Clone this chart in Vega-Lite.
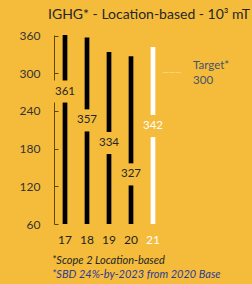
{
  "$schema": "https://vega.github.io/schema/vega-lite/v6.json",
  "width": 110,
  "height": 189,
  "autosize": {"type": "none"},
  "padding": {"left": 54, "top": 35, "right": 88, "bottom": 60},
  "background": "#F5BC3B",
  "config": {
    "view": {"stroke": null},
    "font": "Lato",
    "axis": {"labelFont": "Lato", "grid": false}
  },
  "title": {"text": "IGHG* - Location-based - 10³ mT", "anchor": "start", "frame": "group", "dx": -6, "offset": 8, "fontSize": 14, "fontWeight": "normal", "color": "#262626", "font": "Lato"},
  "datasets": {
    "emissions": [
      {"year": "17", "value": 361, "type": "actual", "label_at": 271},
      {"year": "18", "value": 357, "type": "actual", "label_at": 225},
      {"year": "19", "value": 334, "type": "actual", "label_at": 189},
      {"year": "20", "value": 327, "type": "actual", "label_at": 139},
      {"year": "21", "value": 342, "type": "forecast", "label_at": 216}
    ],
    "target": [{"name": "Target*", "value": 300}]
  },
  "layer": [
    {
      "data": {"name": "emissions"},
      "mark": {"type": "rule", "strokeWidth": 4.7, "strokeCap": "butt"},
      "encoding": {
        "x": {"field": "year", "type": "nominal", "title": null,
          "scale": {"type": "band", "domain": ["17", "18", "19", "20", "21"], "paddingInner": 0, "paddingOuter": 0},
          "axis": {"title": null, "domain": false, "ticks": false, "labelAngle": 0, "labelPadding": 10, "labelFontSize": 12, "labelColor": {"condition": {"test": "datum.value === '21'", "value": "#FFFFFF"}, "value": "#1F1F1F"}}},
        "y": {"field": "value", "type": "quantitative", "title": null,
          "scale": {"domain": [60, 361], "nice": false, "zero": false},
          "axis": {"title": null, "values": [60, 120, 180, 240, 300, 360], "labelOverlap": false, "labelFlush": false, "domain": true, "domainColor": "#5E4800", "domainWidth": 1, "ticks": true, "tickColor": "#5E4800", "tickWidth": 1, "tickSize": -4, "labelPadding": 18, "labelFontSize": 12, "labelColor": "#333333"}},
        "y2": {"datum": 60},
        "color": {"field": "type", "type": "nominal", "scale": {"domain": ["actual", "forecast"], "range": ["#000000", "#FFFFFF"]}, "legend": null}
      }
    },
    {
      "data": {"name": "emissions"},
      "mark": {"type": "point", "shape": "M-1,-0.85H1V0.85H-1Z", "size": 676, "filled": true, "color": "#F5BC3B", "opacity": 1, "strokeWidth": 0},
      "encoding": {
        "x": {"field": "year", "type": "nominal", "title": null,
          "axis": {"title": null, "domain": false, "ticks": false, "labelAngle": 0, "labelPadding": 10, "labelFontSize": 12, "labelColor": {"condition": {"test": "datum.value === '21'", "value": "#FFFFFF"}, "value": "#1F1F1F"}}},
        "y": {"field": "label_at", "type": "quantitative", "title": null,
          "axis": {"title": null, "values": [60, 120, 180, 240, 300, 360], "labelOverlap": false, "labelFlush": false, "domain": true, "domainColor": "#5E4800", "domainWidth": 1, "ticks": true, "tickColor": "#5E4800", "tickWidth": 1, "tickSize": -4, "labelPadding": 18, "labelFontSize": 12, "labelColor": "#333333"}}
      }
    },
    {
      "data": {"name": "emissions"},
      "mark": {"type": "text", "fontSize": 11.5, "baseline": "middle", "align": "center"},
      "encoding": {
        "x": {"field": "year", "type": "nominal", "title": null,
          "axis": {"title": null, "domain": false, "ticks": false, "labelAngle": 0, "labelPadding": 10, "labelFontSize": 12, "labelColor": {"condition": {"test": "datum.value === '21'", "value": "#FFFFFF"}, "value": "#1F1F1F"}}},
        "y": {"field": "label_at", "type": "quantitative", "title": null,
          "axis": {"title": null, "values": [60, 120, 180, 240, 300, 360], "labelOverlap": false, "labelFlush": false, "domain": true, "domainColor": "#5E4800", "domainWidth": 1, "ticks": true, "tickColor": "#5E4800", "tickWidth": 1, "tickSize": -4, "labelPadding": 18, "labelFontSize": 12, "labelColor": "#333333"}},
        "text": {"field": "value", "type": "quantitative"},
        "color": {"condition": {"test": "datum.year === '21'", "value": "#FFFFFF"}, "value": "#262626"}
      }
    },
    {
      "data": {"name": "target"},
      "mark": {"type": "text", "text": "———", "fontSize": 8, "align": "center", "baseline": "middle", "color": "#FCE3A6"},
      "encoding": {
        "x": {"datum": "21", "bandPosition": 1.36, "title": null,
          "axis": {"title": null, "domain": false, "ticks": false, "labelAngle": 0, "labelPadding": 10, "labelFontSize": 12, "labelColor": {"condition": {"test": "datum.value === '21'", "value": "#FFFFFF"}, "value": "#1F1F1F"}}},
        "y": {"field": "value", "type": "quantitative", "title": null,
          "axis": {"title": null, "values": [60, 120, 180, 240, 300, 360], "labelOverlap": false, "labelFlush": false, "domain": true, "domainColor": "#5E4800", "domainWidth": 1, "ticks": true, "tickColor": "#5E4800", "tickWidth": 1, "tickSize": -4, "labelPadding": 18, "labelFontSize": 12, "labelColor": "#333333"}}
      }
    },
    {
      "data": {"name": "target"},
      "mark": {"type": "text", "fontSize": 11.5, "align": "left", "baseline": "middle", "dy": -7.5, "color": "#44546A"},
      "encoding": {
        "x": {"datum": "21", "bandPosition": 2.32, "title": null,
          "axis": {"title": null, "domain": false, "ticks": false, "labelAngle": 0, "labelPadding": 10, "labelFontSize": 12, "labelColor": {"condition": {"test": "datum.value === '21'", "value": "#FFFFFF"}, "value": "#1F1F1F"}}},
        "y": {"field": "value", "type": "quantitative", "title": null,
          "axis": {"title": null, "values": [60, 120, 180, 240, 300, 360], "labelOverlap": false, "labelFlush": false, "domain": true, "domainColor": "#5E4800", "domainWidth": 1, "ticks": true, "tickColor": "#5E4800", "tickWidth": 1, "tickSize": -4, "labelPadding": 18, "labelFontSize": 12, "labelColor": "#333333"}},
        "text": {"field": "name"}
      }
    },
    {
      "data": {"name": "target"},
      "mark": {"type": "text", "fontSize": 11.5, "align": "left", "baseline": "middle", "dy": 7.5, "color": "#44546A"},
      "encoding": {
        "x": {"datum": "21", "bandPosition": 2.32, "title": null,
          "axis": {"title": null, "domain": false, "ticks": false, "labelAngle": 0, "labelPadding": 10, "labelFontSize": 12, "labelColor": {"condition": {"test": "datum.value === '21'", "value": "#FFFFFF"}, "value": "#1F1F1F"}}},
        "y": {"field": "value", "type": "quantitative", "title": null,
          "axis": {"title": null, "values": [60, 120, 180, 240, 300, 360], "labelOverlap": false, "labelFlush": false, "domain": true, "domainColor": "#5E4800", "domainWidth": 1, "ticks": true, "tickColor": "#5E4800", "tickWidth": 1, "tickSize": -4, "labelPadding": 18, "labelFontSize": 12, "labelColor": "#333333"}},
        "text": {"field": "value", "type": "quantitative"}
      }
    },
    {
      "data": {"values": [{"note": "*Scope 2 Location-based"}]},
      "mark": {"type": "text", "fontSize": 11, "fontStyle": "italic", "align": "left", "baseline": "middle", "dx": -2, "dy": 37, "color": "#262626"},
      "encoding": {
        "x": {"datum": "17", "bandPosition": 0, "title": null,
          "axis": {"title": null, "domain": false, "ticks": false, "labelAngle": 0, "labelPadding": 10, "labelFontSize": 12, "labelColor": {"condition": {"test": "datum.value === '21'", "value": "#FFFFFF"}, "value": "#1F1F1F"}}},
        "y": {"datum": 60, "title": null,
          "axis": {"title": null, "values": [60, 120, 180, 240, 300, 360], "labelOverlap": false, "labelFlush": false, "domain": true, "domainColor": "#5E4800", "domainWidth": 1, "ticks": true, "tickColor": "#5E4800", "tickWidth": 1, "tickSize": -4, "labelPadding": 18, "labelFontSize": 12, "labelColor": "#333333"}},
        "text": {"field": "note"}
      }
    },
    {
      "data": {"values": [{"note": "*SBD 24%-by-2023 from 2020 Base"}]},
      "mark": {"type": "text", "fontSize": 11, "fontStyle": "italic", "align": "left", "baseline": "middle", "dx": -2, "dy": 51, "color": "#2E3A94"},
      "encoding": {
        "x": {"datum": "17", "bandPosition": 0, "title": null,
          "axis": {"title": null, "domain": false, "ticks": false, "labelAngle": 0, "labelPadding": 10, "labelFontSize": 12, "labelColor": {"condition": {"test": "datum.value === '21'", "value": "#FFFFFF"}, "value": "#1F1F1F"}}},
        "y": {"datum": 60, "title": null,
          "axis": {"title": null, "values": [60, 120, 180, 240, 300, 360], "labelOverlap": false, "labelFlush": false, "domain": true, "domainColor": "#5E4800", "domainWidth": 1, "ticks": true, "tickColor": "#5E4800", "tickWidth": 1, "tickSize": -4, "labelPadding": 18, "labelFontSize": 12, "labelColor": "#333333"}},
        "text": {"field": "note"}
      }
    }
  ]
}
